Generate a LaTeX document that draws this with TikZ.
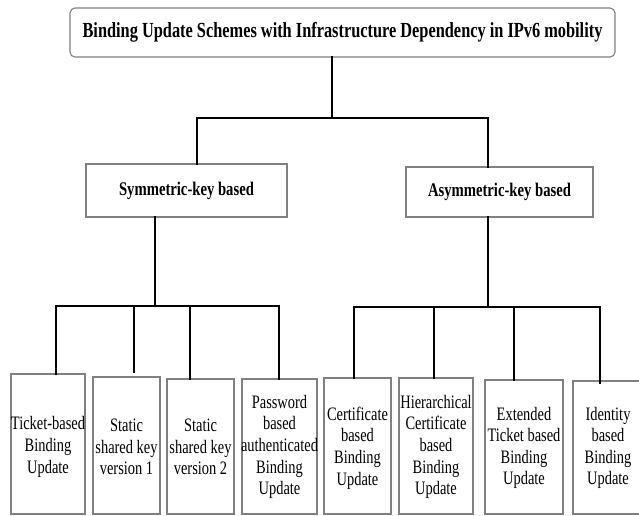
\documentclass[tikz,border=0pt]{standalone}
\usepackage{fontspec}
\setmainfont{Liberation Serif}[FakeStretch=0.76]
\begin{document}
\begin{tikzpicture}[x=1pt,y=-1pt,
  box/.style={draw=black!50,line width=1.1pt,inner sep=0pt,align=center,fill=white},
  titlebox/.style={box,rounded corners=5pt,font=\fontsize{21.5}{25}\selectfont\bfseries},
  midbox/.style={box,font=\fontsize{19.3}{23}\selectfont\bfseries},
  leafbox/.style={box},
  leaftext/.style={inner sep=0pt,align=center,font=\fontsize{19}{21.6}\selectfont},
  conn/.style={line width=2.8pt,line join=miter,line cap=rect}]
\useasboundingbox (0,0) rectangle (639,515);
% boxes
\node[titlebox,minimum width=545pt,minimum height=49pt] (title) at (342.5,32.5)
  {Binding Update Schemes with Infrastructure Dependency in IPv6 mobility};
\node[midbox,minimum width=201pt,minimum height=53pt] (sym) at (186.5,190.5) {Symmetric-key based};
\node[midbox,minimum width=187pt,minimum height=50pt] (asym) at (499.5,192) {Asymmetric-key based};
\node[leafbox,minimum width=74pt,minimum height=140pt] (l1) at (48,444) {};
\node[leafbox,minimum width=67pt,minimum height=137pt] (l2) at (126.5,445.5) {};
\node[leafbox,minimum width=67pt,minimum height=135pt] (l3) at (200.5,446.5) {};
\node[leafbox,minimum width=75pt,minimum height=135pt] (l4) at (279.5,446.5) {};
\node[leafbox,minimum width=67pt,minimum height=136pt] (l5) at (357.5,446) {};
\node[leafbox,minimum width=74pt,minimum height=136pt] (l6) at (436,446) {};
\node[leafbox,minimum width=78pt,minimum height=134pt] (l7) at (524,447) {};
\node[leafbox,minimum width=70pt,minimum height=133pt] (l8) at (608,447.5) {};
% leaf texts
\node[leaftext] (l1t) at (l1 |- 0,447) {Ticket-based\\Binding\\Update};
\node[leaftext] (l2t) at (l2 |- 0,447) {Static\\shared key\\version 1};
\node[leaftext] (l3t) at (l3 |- 0,447) {Static\\shared key\\version 2};
\node[leaftext] (l4t) at (l4 |- 0,447) {Password\\based\\authenticated\\Binding\\Update};
\node[leaftext] (l5t) at (l5 |- 0,448) {Certificate\\based\\Binding\\Update};
\node[leaftext] (l6t) at (l6 |- 0,447) {Hierarchical\\Certificate\\based\\Binding\\Update};
\node[leaftext] (l7t) at (l7 |- 0,448) {Extended\\Ticket based\\Binding\\Update};
\node[leaftext] (l8t) at (l8 |- 0,448) {Identity\\based\\Binding\\Update};
% junctions
\coordinate (j0) at (332,118);
\coordinate (jL) at (197,118);
\coordinate (jR) at (488,118);
\coordinate (bL) at (155,306);
\coordinate (bR) at (488,307);
\coordinate (t1) at (56,306);
\coordinate (t2) at (134,306);
\coordinate (t3) at (190,306);
\coordinate (t4) at (279,306);
\coordinate (t5) at (354,307);
\coordinate (t6) at (434,307);
\coordinate (t7) at (514,307);
\coordinate (t8) at (600,307);
% connectors
\draw[conn] (title.south -| j0) -- (j0);
\draw[conn] (sym.north -| jL) -- (jL) -- (jR) -- (asym.north -| jR);
\draw[conn] (sym.south -| bL) -- (bL);
\draw[conn] (asym.south -| bR) -- (bR);
\draw[conn] (l1.north -| t1) -- (t1) -- (t4) -- (l4.north -| t4);
\draw[conn] (t2) -- ([yshift=5pt]l2.north -| t2);
\draw[conn] (t3) -- (l3.north -| t3);
\draw[conn] (l5.north -| t5) -- (t5) -- (t8) -- ([yshift=-2pt]l8.north -| t8);
\draw[conn] (t6) -- (l6.north -| t6);
\draw[conn] (t7) -- (l7.north -| t7);
\end{tikzpicture}
\end{document}
